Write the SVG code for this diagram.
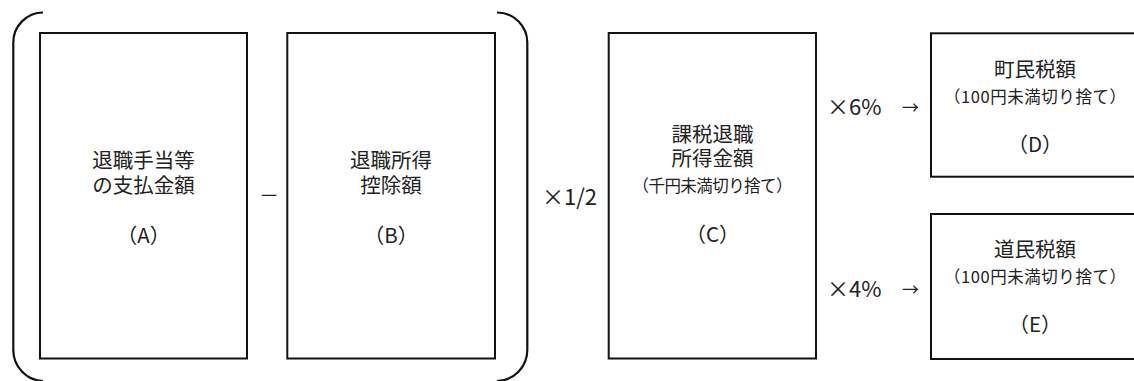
<svg xmlns="http://www.w3.org/2000/svg" width="1134" height="381" viewBox="0 0 1134 381">
<style>
.box{fill:#fff;stroke:#111;stroke-width:2}
.br{fill:none;stroke:#111;stroke-width:2.2}
text{font-family:"Noto Sans CJK JP","Noto Sans",sans-serif;fill:#222;text-anchor:middle}
.t{font-size:20.5px}
.s{font-size:16.5px}
.op{font-size:22px;text-anchor:start}
</style>
<rect width="1134" height="381" fill="#fff"/>
<g id="connectors">
<path class="br" d="M43,12.5 A30,30 0 0 0 13.3,42.5 L13.3,350 A31,31 0 0 0 43,381"/>
<path class="br" d="M497,12.5 A30,30 0 0 1 527.3,42.5 L527.3,350 A31,31 0 0 1 497,381"/>
<text class="op" x="259" y="203" style="font-size:20px">－</text>
<text class="op" x="542" y="205">×1/2</text>
<text class="op" x="827" y="115">×6%</text>
<text class="op" x="902" y="114" style="font-size:17px">→</text>
<text class="op" x="827" y="297">×4%</text>
<text class="op" x="902" y="296" style="font-size:17px">→</text>
</g>
<g id="nodeA">
<rect class="box" x="40" y="33" width="207" height="325.5"/>
<text class="t" x="143.5" y="168">退職手当等<tspan x="143.5" dy="25">の支払金額</tspan></text>
<text class="t" x="143.5" y="243">（A）</text>
</g>
<g id="nodeB">
<rect class="box" x="287.3" y="33" width="207.7" height="325.5"/>
<text class="t" x="391" y="168">退職所得<tspan x="391" dy="25">控除額</tspan></text>
<text class="t" x="391" y="243">（B）</text>
</g>
<g id="nodeC">
<rect class="box" x="608.7" y="33" width="207.3" height="325.5"/>
<text class="t" x="712.5" y="141.5">課税退職<tspan x="712.5" dy="24.5">所得金額</tspan></text>
<text class="s" x="712.5" y="191.5" textLength="160">（千円未満切り捨て）</text>
<text class="t" x="712.5" y="241.5">（C）</text>
</g>
<g id="nodeD">
<rect class="box" x="931" y="33.3" width="210" height="143.4"/>
<text class="t" x="1035" y="76.5">町民税額</text>
<text class="s" x="1035" y="103" textLength="182">（100円未満切り捨て）</text>
<text class="t" x="1035" y="151.5">（D）</text>
</g>
<g id="nodeE">
<rect class="box" x="931" y="214" width="210" height="145"/>
<text class="t" x="1035" y="256.5">道民税額</text>
<text class="s" x="1035" y="283" textLength="182">（100円未満切り捨て）</text>
<text class="t" x="1035" y="331.5">（E）</text>
</g>
</svg>
